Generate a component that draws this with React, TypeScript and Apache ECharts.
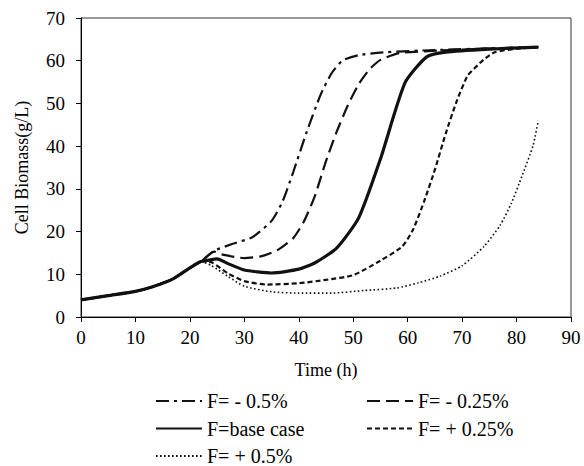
import React, { useEffect, useRef } from "react";
import * as echarts from "echarts";

// Shared early growth phase (t in h, biomass g/L)
const earlyPhase: [number, number][] = [
  [0, 4], [5, 5], [10, 6], [13, 7], [17, 9], [20, 11.5], [22, 13],
];

const minus05: [number, number][] = [
  [24.5, 15.5], [28, 17.2], [31.5, 18.7], [35, 22.5], [37, 27], [39, 34],
  [41.5, 43.5], [44, 52], [46, 57], [48, 60], [51, 61.3], [56, 62], [65, 62.5],
  [75, 62.9], [84, 63.2],
];

const minus025: [number, number][] = [
  [24.5, 15.3], [26, 14.6], [30, 13.8], [33, 14.2], [36, 15.6], [39, 18.5],
  [41, 22.5], [43, 28.5], [45, 36.5], [47, 43.5], [49, 49.5], [51, 54.5],
  [53, 58], [55, 60.2], [58.5, 61.8], [63, 62.2], [72, 62.7], [84, 63.2],
];

const baseCase: [number, number][] = [
  [23, 13.2], [25, 13.6], [27, 12.5], [30, 11], [35, 10.3], [40, 11.2],
  [43, 12.7], [47, 16.2], [51, 23.2], [55, 37], [59.5, 54.8], [63.5, 60.9],
  [67, 62], [75, 62.7], [84, 63.2],
];

const plus025: [number, number][] = [
  [24, 12.8], [27, 10.2], [30, 8.4], [34, 7.6], [40, 7.9], [45, 8.7],
  [50, 9.8], [55, 13.2], [59, 16.5], [61, 20.5], [63, 27], [65, 34.5],
  [67, 43], [69, 50.5], [71, 56.5], [72.5, 58.5], [74, 60.3], [76, 62],
  [80, 62.8], [84, 63.2],
];

const plus05: [number, number][] = [
  [24, 12], [27, 9.5], [30, 7.2], [35, 5.9], [40, 5.6], [46, 5.6],
  [52, 6.2], [58, 6.8], [62, 8], [66, 9.6], [70, 12], [74, 16.5],
  [77, 21.5], [79, 26.5], [81, 33], [83, 40], [84, 46],
];

const seriesNames = [
  "F= - 0.5%",
  "F= - 0.25%",
  "F=base case",
  "F= + 0.25%",
  "F= + 0.5%",
];

const xTicks = [0, 90, 10];
const yTicks = [0, 70, 10];

const FONT = "Liberation Serif";

export default function App() {
  const ref = useRef<HTMLDivElement>(null);

  useEffect(() => {
    if (!ref.current) return;
    const chart = echarts.init(ref.current, undefined, { renderer: "svg" });
    const black = "#111";
    const mk = (
      name: string,
      tail: [number, number][],
      width: number,
      type: any
    ) => ({
      name,
      type: "line",
      data: [...earlyPhase, ...tail],
      symbol: "none",
      showSymbol: false,
      smooth: 0.2,
      lineStyle: { color: black, width, type },
      itemStyle: { color: black },
    });

    const legendCommon = {
      orient: "vertical",
      top: 391,
      itemWidth: 46,
      itemHeight: 18,
      itemGap: 7.5,
      padding: 0,
      itemStyle: { opacity: 0 },
      textStyle: { fontFamily: FONT, fontSize: 20, color: "#000", lineHeight: 18 },
    };

    chart.setOption({
      animation: false,
      backgroundColor: "#fff",
      textStyle: { fontFamily: FONT },
      grid: {
        left: 81,
        top: 18,
        right: 13,
        bottom: 149,
        show: true,
        borderColor: "#333",
        borderWidth: 1,
        backgroundColor: "transparent",
      },
      xAxis: {
        type: "value",
        min: xTicks[0],
        max: xTicks[1],
        interval: xTicks[2],
        name: "Time (h)",
        nameLocation: "middle",
        nameGap: 44,
        nameTextStyle: { fontFamily: FONT, fontSize: 18, color: "#000" },
        axisLine: { lineStyle: { color: "#000", width: 1 } },
        axisTick: { show: true, inside: false, length: 5, lineStyle: { color: "#000" } },
        axisLabel: { fontFamily: FONT, fontSize: 19, color: "#000", margin: 11 },
        splitLine: { show: false },
      },
      yAxis: {
        type: "value",
        min: yTicks[0],
        max: yTicks[1],
        interval: yTicks[2],
        name: "Cell Biomass(g/L)",
        nameLocation: "middle",
        nameGap: 50,
        nameTextStyle: { fontFamily: FONT, fontSize: 18, color: "#000" },
        axisLine: { show: true, lineStyle: { color: "#000", width: 1 } },
        axisTick: { show: true, inside: false, length: 5, lineStyle: { color: "#000" } },
        axisLabel: { fontFamily: FONT, fontSize: 19, color: "#000", margin: 16 },
        splitLine: { show: false },
      },
      legend: [
        { ...legendCommon, left: 155, data: [seriesNames[0], seriesNames[2], seriesNames[4]] },
        { ...legendCommon, left: 366, data: [seriesNames[1], seriesNames[3]] },
      ],
      series: [
        mk(seriesNames[0], minus05, 2.2, [13, 5, 3, 5]),
        mk(seriesNames[1], minus025, 2.2, [13, 6]),
        mk(seriesNames[2], baseCase, 3.2, "solid"),
        mk(seriesNames[3], plus025, 2.2, [5, 3]),
        mk(seriesNames[4], plus05, 1.6, [1.6, 2.4]),
      ],
    });
    return () => chart.dispose();
  }, []);

  return (
    <div
      ref={ref}
      style={{ position: "absolute", left: 0, top: 0, width: 584, height: 466 }}
    />
  );
}
